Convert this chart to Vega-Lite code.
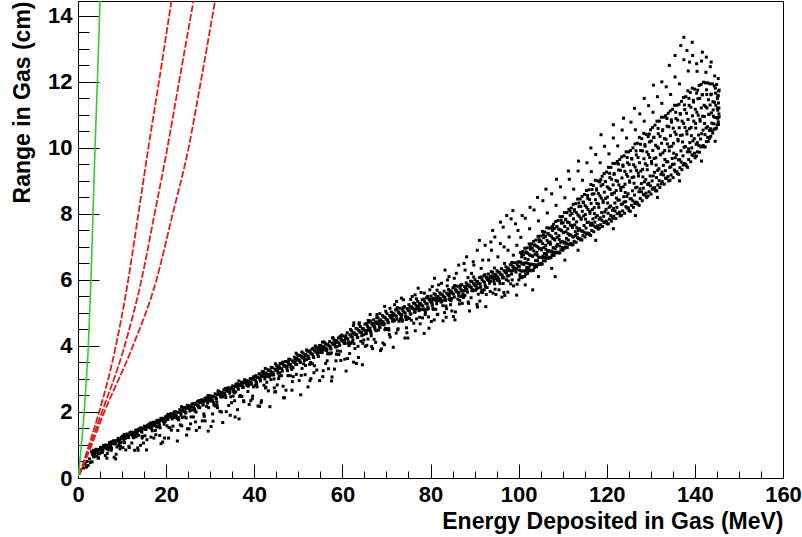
{
"$schema": "https://vega.github.io/schema/vega-lite/v6.json",
"width": 705, "height": 477,
"autosize": "none",
"padding": {"left": 78, "top": 1, "right": 19, "bottom": 59},
"background": "white",
"config": {
 "view": {"stroke": "black", "strokeWidth": 1},
 "axis": {"labelFont": "Liberation Sans", "labelFontWeight": "bold", "labelFontSize": 22, "labelColor": "black", "titleFont": "Liberation Sans", "titleFontWeight": "bold", "titleFontSize": 23, "titleColor": "black", "domainColor": "black", "tickColor": "black", "grid": false, "labelOverlap": false, "labelFlush": false, "labelBound": false}
},
"datasets": {
"band": [
{"e":1.2,"r":0.3},{"e":1.6,"r":0.42},{"e":2.0,"r":0.5},{"e":2.3,"r":0.38},{"e":2.6,"r":0.58},{"e":2.8,"r":0.47},{"e":1.9,"r":0.33},
{"e":3.1,"r":0.8},{"e":3.4,"r":0.7},{"e":3.7,"r":0.79},{"e":3.25,"r":0.73},{"e":3.55,"r":0.65},{"e":3.85,"r":0.8},
{"e":4.1,"r":0.87},{"e":4.4,"r":0.77},{"e":4.7,"r":0.86},{"e":4.25,"r":0.8},{"e":4.55,"r":0.6},{"e":4.85,"r":0.75},
{"e":5.1,"r":0.93},{"e":5.4,"r":0.83},{"e":5.7,"r":0.92},{"e":5.25,"r":0.86},{"e":5.55,"r":0.81},{"e":5.85,"r":0.95},
{"e":6.1,"r":1.0},{"e":6.4,"r":0.9},{"e":6.7,"r":0.99},{"e":6.25,"r":0.93},{"e":6.55,"r":0.6},{"e":6.85,"r":0.85},
{"e":7.1,"r":1.07},{"e":7.4,"r":0.97},{"e":7.7,"r":1.06},{"e":7.25,"r":1.0},{"e":7.55,"r":0.84},{"e":7.85,"r":1.1},
{"e":8.1,"r":1.13},{"e":8.4,"r":1.03},{"e":8.7,"r":1.12},{"e":8.25,"r":1.06},{"e":8.55,"r":0.58},{"e":8.85,"r":0.94},
{"e":9.1,"r":1.2},{"e":9.4,"r":1.1},{"e":9.7,"r":1.19},{"e":9.25,"r":1.13},{"e":9.55,"r":0.88},{"e":9.85,"r":1.23},
{"e":10.1,"r":1.27},{"e":10.4,"r":1.17},{"e":10.7,"r":1.26},{"e":10.25,"r":1.2},{"e":10.55,"r":1.07},{"e":10.85,"r":0.85},
{"e":11.1,"r":1.33},{"e":11.4,"r":1.23},{"e":11.7,"r":1.32},{"e":11.25,"r":1.26},{"e":11.55,"r":0.96},{"e":11.85,"r":1.36},
{"e":12.1,"r":1.39},{"e":12.4,"r":1.29},{"e":12.7,"r":1.38},{"e":12.25,"r":1.32},{"e":12.55,"r":1.24},{"e":12.85,"r":0.84},
{"e":13.1,"r":1.45},{"e":13.4,"r":1.35},{"e":13.7,"r":1.44},{"e":13.25,"r":1.38},{"e":13.55,"r":0.91},{"e":13.85,"r":1.48},
{"e":14.1,"r":1.51},{"e":14.4,"r":1.41},{"e":14.7,"r":1.5},{"e":14.25,"r":1.44},{"e":14.55,"r":1.21},{"e":14.85,"r":1.06},
{"e":15.1,"r":1.57},{"e":15.4,"r":1.47},{"e":15.7,"r":1.56},{"e":15.25,"r":1.5},{"e":15.55,"r":0.85},{"e":15.85,"r":1.6},
{"e":16.1,"r":1.63},{"e":16.4,"r":1.53},{"e":16.7,"r":1.62},{"e":16.25,"r":1.56},{"e":16.55,"r":1.24},{"e":16.85,"r":1.43},
{"e":17.1,"r":1.69},{"e":17.4,"r":1.59},{"e":17.7,"r":1.68},{"e":17.25,"r":1.62},{"e":17.55,"r":1.44},{"e":17.85,"r":1.73},
{"e":18.1,"r":1.75},{"e":18.4,"r":1.65},{"e":18.7,"r":1.74},{"e":18.25,"r":1.68},{"e":18.55,"r":1.29},{"e":18.85,"r":1.04},
{"e":19.1,"r":1.81},{"e":19.4,"r":1.71},{"e":19.7,"r":1.8},{"e":19.25,"r":1.74},{"e":19.55,"r":1.63},{"e":19.85,"r":1.85},
{"e":20.1,"r":1.87},{"e":20.4,"r":1.77},{"e":20.7,"r":1.86},{"e":20.25,"r":1.8},{"e":20.55,"r":1.21},{"e":20.85,"r":1.52},
{"e":21.1,"r":1.95},{"e":21.4,"r":1.79},{"e":21.7,"r":1.93},{"e":21.25,"r":1.85},{"e":21.55,"r":1.57},{"e":21.85,"r":2.0},
{"e":22.1,"r":2.01},{"e":22.4,"r":1.85},{"e":22.7,"r":1.99},{"e":22.25,"r":1.91},{"e":22.55,"r":1.12},{"e":22.85,"r":1.76},
{"e":23.1,"r":2.07},{"e":23.4,"r":1.91},{"e":23.7,"r":2.05},{"e":23.25,"r":1.97},{"e":23.55,"r":1.58},{"e":23.85,"r":2.12},
{"e":24.1,"r":2.13},{"e":24.4,"r":1.97},{"e":24.7,"r":2.11},{"e":24.25,"r":2.03},{"e":24.55,"r":1.82},{"e":24.85,"r":1.49},
{"e":25.1,"r":2.19},{"e":25.4,"r":2.03},{"e":25.7,"r":2.17},{"e":25.25,"r":2.09},{"e":25.55,"r":1.64},{"e":25.85,"r":2.24},
{"e":26.1,"r":2.25},{"e":26.4,"r":2.09},{"e":26.7,"r":2.23},{"e":26.25,"r":2.15},{"e":26.55,"r":2.03},{"e":26.85,"r":1.44},
{"e":27.1,"r":2.31},{"e":27.4,"r":2.15},{"e":27.7,"r":2.29},{"e":27.25,"r":2.21},{"e":27.55,"r":1.53},{"e":27.85,"r":2.35},
{"e":28.1,"r":2.37},{"e":28.4,"r":2.21},{"e":28.7,"r":2.35},{"e":28.25,"r":2.27},{"e":28.55,"r":1.94},{"e":28.85,"r":1.73},
{"e":29.1,"r":2.43},{"e":29.4,"r":2.27},{"e":29.7,"r":2.41},{"e":29.25,"r":2.33},{"e":29.55,"r":1.42},{"e":29.85,"r":2.47},
{"e":30.1,"r":2.49},{"e":30.4,"r":2.33},{"e":30.7,"r":2.47},{"e":30.25,"r":2.39},{"e":30.55,"r":1.94},{"e":30.85,"r":2.21},
{"e":31.1,"r":2.55},{"e":31.4,"r":2.39},{"e":31.7,"r":2.53},{"e":31.25,"r":2.45},{"e":31.55,"r":2.21},{"e":31.85,"r":2.6},
{"e":32.1,"r":2.61},{"e":32.4,"r":2.45},{"e":32.7,"r":2.59},{"e":32.25,"r":2.51},{"e":32.55,"r":2.0},{"e":32.85,"r":1.68},
{"e":33.1,"r":2.67},{"e":33.4,"r":2.51},{"e":33.7,"r":2.65},{"e":33.25,"r":2.57},{"e":33.55,"r":2.44},{"e":33.85,"r":2.72},
{"e":34.1,"r":2.73},{"e":34.4,"r":2.57},{"e":34.7,"r":2.71},{"e":34.25,"r":2.63},{"e":34.55,"r":1.9},{"e":34.85,"r":2.28},
{"e":35.1,"r":2.79},{"e":35.4,"r":2.63},{"e":35.7,"r":2.77},{"e":35.25,"r":2.69},{"e":35.55,"r":2.34},{"e":35.85,"r":2.84},
{"e":36.1,"r":2.85},{"e":36.4,"r":2.69},{"e":36.7,"r":2.83},{"e":36.25,"r":2.75},{"e":36.55,"r":1.79},{"e":36.85,"r":2.5},
{"e":37.1,"r":2.9},{"e":37.4,"r":2.74},{"e":37.7,"r":2.88},{"e":37.25,"r":2.8},{"e":37.55,"r":2.34},{"e":37.85,"r":2.96},
{"e":38.1,"r":2.96},{"e":38.4,"r":2.8},{"e":38.7,"r":2.94},{"e":38.25,"r":2.86},{"e":38.55,"r":2.62},{"e":38.85,"r":2.23},
{"e":39.1,"r":3.01},{"e":39.4,"r":2.85},{"e":39.7,"r":2.99},{"e":39.25,"r":2.91},{"e":39.55,"r":2.4},{"e":39.85,"r":3.06},
{"e":40.1,"r":3.07},{"e":40.4,"r":2.91},{"e":40.7,"r":3.05},{"e":40.25,"r":2.97},{"e":40.55,"r":2.84},{"e":40.85,"r":2.18},
{"e":41.1,"r":3.16},{"e":41.4,"r":2.94},{"e":41.7,"r":3.12},{"e":41.25,"r":3.01},{"e":41.55,"r":2.28},{"e":41.85,"r":3.22},{"e":41.95,"r":3.08},
{"e":42.1,"r":3.22},{"e":42.4,"r":3.0},{"e":42.7,"r":3.18},{"e":42.25,"r":3.07},{"e":42.55,"r":2.73},{"e":42.85,"r":2.9},{"e":42.95,"r":3.14},
{"e":43.1,"r":3.28},{"e":43.4,"r":3.06},{"e":43.7,"r":3.24},{"e":43.25,"r":3.13},{"e":43.55,"r":2.16},{"e":43.85,"r":3.35},{"e":43.95,"r":3.2},
{"e":44.1,"r":3.34},{"e":44.4,"r":3.12},{"e":44.7,"r":3.3},{"e":44.25,"r":3.19},{"e":44.55,"r":2.73},{"e":44.85,"r":2.61},{"e":44.95,"r":3.26},
{"e":45.1,"r":3.4},{"e":45.4,"r":3.18},{"e":45.7,"r":3.36},{"e":45.25,"r":3.25},{"e":45.55,"r":3.01},{"e":45.85,"r":3.47},{"e":45.95,"r":3.32},
{"e":46.1,"r":3.46},{"e":46.4,"r":3.24},{"e":46.7,"r":3.42},{"e":46.25,"r":3.31},{"e":46.55,"r":2.78},{"e":46.85,"r":2.43},{"e":46.95,"r":3.38},
{"e":47.1,"r":3.53},{"e":47.4,"r":3.31},{"e":47.7,"r":3.49},{"e":47.25,"r":3.38},{"e":47.55,"r":3.25},{"e":47.85,"r":3.6},{"e":47.95,"r":3.45},
{"e":48.1,"r":3.59},{"e":48.4,"r":3.37},{"e":48.7,"r":3.55},{"e":48.25,"r":3.44},{"e":48.55,"r":2.66},{"e":48.85,"r":3.07},{"e":48.95,"r":3.51},
{"e":49.1,"r":3.66},{"e":49.4,"r":3.44},{"e":49.7,"r":3.62},{"e":49.25,"r":3.51},{"e":49.55,"r":3.14},{"e":49.85,"r":3.72},{"e":49.95,"r":3.58},
{"e":50.1,"r":3.72},{"e":50.4,"r":3.5},{"e":50.7,"r":3.68},{"e":50.25,"r":3.57},{"e":50.55,"r":2.52},{"e":50.85,"r":3.32},{"e":50.95,"r":3.64},
{"e":51.1,"r":3.78},{"e":51.4,"r":3.56},{"e":51.7,"r":3.74},{"e":51.25,"r":3.63},{"e":51.55,"r":3.13},{"e":51.85,"r":3.88},{"e":51.95,"r":3.7},
{"e":52.1,"r":3.84},{"e":52.4,"r":3.62},{"e":52.7,"r":3.8},{"e":52.25,"r":3.69},{"e":52.55,"r":3.44},{"e":52.85,"r":3.01},{"e":52.95,"r":3.76},
{"e":53.1,"r":3.9},{"e":53.4,"r":3.68},{"e":53.7,"r":3.86},{"e":53.25,"r":3.75},{"e":53.55,"r":3.19},{"e":53.85,"r":4.0},{"e":53.95,"r":3.82},
{"e":54.1,"r":3.96},{"e":54.4,"r":3.74},{"e":54.7,"r":3.92},{"e":54.25,"r":3.81},{"e":54.55,"r":3.68},{"e":54.85,"r":2.95},{"e":54.95,"r":3.88},
{"e":55.1,"r":4.02},{"e":55.4,"r":3.8},{"e":55.7,"r":3.98},{"e":55.25,"r":3.87},{"e":55.55,"r":3.07},{"e":55.85,"r":4.12},{"e":55.95,"r":3.94},
{"e":56.1,"r":4.08},{"e":56.4,"r":3.86},{"e":56.7,"r":4.04},{"e":56.25,"r":3.93},{"e":56.55,"r":3.55},{"e":56.85,"r":3.31},{"e":56.95,"r":4.0},
{"e":57.1,"r":4.13},{"e":57.4,"r":3.91},{"e":57.7,"r":4.09},{"e":57.25,"r":3.98},{"e":57.55,"r":2.94},{"e":57.85,"r":4.24},{"e":57.95,"r":4.05},
{"e":58.1,"r":4.19},{"e":58.4,"r":3.97},{"e":58.7,"r":4.15},{"e":58.25,"r":4.04},{"e":58.55,"r":3.55},{"e":58.85,"r":3.85},{"e":58.95,"r":4.11},
{"e":59.1,"r":4.24},{"e":59.4,"r":4.02},{"e":59.7,"r":4.2},{"e":59.25,"r":4.09},{"e":59.55,"r":3.84},{"e":59.85,"r":4.33},{"e":59.95,"r":4.16},
{"e":60.1,"r":4.3},{"e":60.4,"r":4.08},{"e":60.7,"r":4.26},{"e":60.25,"r":4.15},{"e":60.55,"r":3.6},{"e":60.85,"r":3.24},{"e":60.95,"r":4.22},
{"e":61.1,"r":4.4},{"e":61.4,"r":4.12},{"e":61.7,"r":4.34},{"e":61.25,"r":4.21},{"e":61.55,"r":4.09},{"e":61.85,"r":4.5},{"e":61.95,"r":4.29},
{"e":62.1,"r":4.46},{"e":62.4,"r":4.18},{"e":62.7,"r":4.4},{"e":62.25,"r":4.27},{"e":62.55,"r":3.51},{"e":62.85,"r":3.92},{"e":62.95,"r":4.35},
{"e":63.1,"r":4.53},{"e":63.4,"r":4.25},{"e":63.7,"r":4.47},{"e":63.25,"r":4.34},{"e":63.55,"r":3.99},{"e":63.85,"r":4.7},{"e":63.95,"r":4.42},
{"e":64.1,"r":4.59},{"e":64.4,"r":4.31},{"e":64.7,"r":4.53},{"e":64.25,"r":4.4},{"e":64.55,"r":3.43},{"e":64.85,"r":4.18},{"e":64.95,"r":4.48},
{"e":65.1,"r":4.66},{"e":65.4,"r":4.38},{"e":65.7,"r":4.6},{"e":65.25,"r":4.47},{"e":65.55,"r":4.02},{"e":65.85,"r":4.77},{"e":65.95,"r":4.55},
{"e":66.1,"r":4.72},{"e":66.4,"r":4.44},{"e":66.7,"r":4.66},{"e":66.25,"r":4.53},{"e":66.55,"r":4.31},{"e":66.85,"r":3.92},{"e":66.95,"r":4.61},
{"e":67.1,"r":4.79},{"e":67.4,"r":4.51},{"e":67.7,"r":4.73},{"e":67.25,"r":4.6},{"e":67.55,"r":4.11},{"e":67.85,"r":4.95},{"e":67.95,"r":4.68},
{"e":68.1,"r":4.85},{"e":68.4,"r":4.57},{"e":68.7,"r":4.79},{"e":68.25,"r":4.66},{"e":68.55,"r":4.56},{"e":68.85,"r":3.91},{"e":68.95,"r":4.74},
{"e":69.1,"r":4.92},{"e":69.4,"r":4.64},{"e":69.7,"r":4.86},{"e":69.25,"r":4.73},{"e":69.55,"r":4.04},{"e":69.85,"r":5.05},{"e":69.95,"r":4.81},
{"e":70.1,"r":4.98},{"e":70.4,"r":4.7},{"e":70.7,"r":4.92},{"e":70.25,"r":4.79},{"e":70.55,"r":4.48},{"e":70.85,"r":4.27},{"e":70.95,"r":4.87},
{"e":71.1,"r":5.03},{"e":71.4,"r":4.75},{"e":71.7,"r":4.97},{"e":71.25,"r":4.84},{"e":71.55,"r":3.96},{"e":71.85,"r":5.25},{"e":71.95,"r":4.92},
{"e":72.1,"r":5.09},{"e":72.4,"r":4.81},{"e":72.7,"r":5.03},{"e":72.25,"r":4.9},{"e":72.55,"r":4.49},{"e":72.85,"r":4.75},{"e":72.95,"r":4.98},
{"e":73.1,"r":5.14},{"e":73.4,"r":4.86},{"e":73.7,"r":5.08},{"e":73.25,"r":4.95},{"e":73.55,"r":4.75},{"e":73.85,"r":5.4},{"e":73.95,"r":5.03},
{"e":74.1,"r":5.19},{"e":74.4,"r":4.91},{"e":74.7,"r":5.13},{"e":74.25,"r":5.0},{"e":74.55,"r":4.55},{"e":74.85,"r":4.24},{"e":74.95,"r":5.08},
{"e":75.1,"r":5.25},{"e":75.4,"r":4.97},{"e":75.7,"r":5.19},{"e":75.25,"r":5.06},{"e":75.55,"r":4.97},{"e":75.85,"r":5.5},{"e":75.95,"r":5.14},
{"e":76.1,"r":5.3},{"e":76.4,"r":5.02},{"e":76.7,"r":5.24},{"e":76.25,"r":5.11},{"e":76.55,"r":4.46},{"e":76.85,"r":4.82},{"e":76.95,"r":5.19},
{"e":77.1,"r":5.35},{"e":77.4,"r":5.07},{"e":77.7,"r":5.29},{"e":77.25,"r":5.16},{"e":77.55,"r":4.87},{"e":77.85,"r":5.62},{"e":77.95,"r":5.24},
{"e":78.1,"r":5.4},{"e":78.4,"r":5.12},{"e":78.7,"r":5.34},{"e":78.25,"r":5.21},{"e":78.55,"r":4.38},{"e":78.85,"r":5.02},{"e":78.95,"r":5.29},
{"e":79.1,"r":5.46},{"e":79.4,"r":5.18},{"e":79.7,"r":5.4},{"e":79.25,"r":5.27},{"e":79.55,"r":4.88},{"e":79.85,"r":5.7},{"e":79.95,"r":5.35},
{"e":80.1,"r":5.51},{"e":80.4,"r":5.23},{"e":80.7,"r":5.45},{"e":80.25,"r":5.32},{"e":80.55,"r":5.14},{"e":80.85,"r":4.79},{"e":80.95,"r":5.4},
{"e":81.1,"r":5.56},{"e":81.4,"r":5.28},{"e":81.7,"r":5.5},{"e":81.25,"r":5.37},{"e":81.55,"r":4.95},{"e":81.85,"r":5.85},{"e":81.95,"r":5.45},
{"e":82.1,"r":5.61},{"e":82.4,"r":5.33},{"e":82.7,"r":5.55},{"e":82.25,"r":5.42},{"e":82.55,"r":5.34},{"e":82.85,"r":4.76},{"e":82.95,"r":5.5},
{"e":83.1,"r":5.66},{"e":83.4,"r":5.38},{"e":83.7,"r":5.6},{"e":83.25,"r":5.47},{"e":83.55,"r":4.87},{"e":83.85,"r":6.0},{"e":83.95,"r":5.55},
{"e":84.1,"r":5.71},{"e":84.4,"r":5.43},{"e":84.7,"r":5.65},{"e":84.25,"r":5.52},{"e":84.55,"r":5.25},{"e":84.85,"r":5.06},{"e":84.95,"r":5.6},
{"e":85.1,"r":5.76},{"e":85.4,"r":5.48},{"e":85.7,"r":5.7},{"e":85.25,"r":5.57},{"e":85.55,"r":4.79},{"e":85.85,"r":6.2},{"e":85.95,"r":5.65},
{"e":86.1,"r":5.81},{"e":86.4,"r":5.53},{"e":86.7,"r":5.75},{"e":86.25,"r":5.62},{"e":86.55,"r":5.27},{"e":86.85,"r":5.5},{"e":86.95,"r":5.7},
{"e":87.1,"r":5.86},{"e":87.4,"r":5.58},{"e":87.7,"r":5.8},{"e":87.25,"r":5.67},{"e":87.55,"r":5.5},{"e":87.85,"r":6.3},{"e":87.95,"r":5.75},
{"e":88.1,"r":5.91},{"e":88.4,"r":5.63},{"e":88.7,"r":5.85},{"e":88.25,"r":5.72},{"e":88.55,"r":5.33},{"e":88.85,"r":5.06},{"e":88.95,"r":5.8},
{"e":89.1,"r":5.96},{"e":89.4,"r":5.68},{"e":89.7,"r":5.9},{"e":89.25,"r":5.77},{"e":89.55,"r":5.7},{"e":89.85,"r":6.45},{"e":89.95,"r":5.85},
{"e":90.1,"r":6.01},{"e":90.4,"r":5.73},{"e":90.7,"r":5.95},{"e":90.25,"r":5.82},{"e":90.55,"r":5.26},{"e":90.85,"r":5.57},{"e":90.95,"r":5.9},
{"e":91.1,"r":6.07},{"e":91.4,"r":5.79},{"e":91.7,"r":6.01},{"e":91.25,"r":5.88},{"e":91.55,"r":5.63},{"e":91.85,"r":6.6},{"e":91.95,"r":5.96},
{"e":92.1,"r":6.12},{"e":92.4,"r":5.84},{"e":92.7,"r":6.06},{"e":92.25,"r":5.93},{"e":92.55,"r":5.19},{"e":92.85,"r":5.77},{"e":92.95,"r":6.01},
{"e":93.1,"r":6.18},{"e":93.4,"r":5.9},{"e":93.7,"r":6.12},{"e":93.25,"r":5.99},{"e":93.55,"r":5.65},{"e":93.85,"r":6.9},{"e":93.95,"r":6.07},
{"e":94.1,"r":6.23},{"e":94.4,"r":5.95},{"e":94.7,"r":6.17},{"e":94.25,"r":6.04},{"e":94.55,"r":5.88},{"e":94.85,"r":5.56},{"e":94.95,"r":6.12},
{"e":95.1,"r":6.28},{"e":95.4,"r":6.0},{"e":95.7,"r":6.22},{"e":95.25,"r":6.09},{"e":95.55,"r":5.7},{"e":95.85,"r":7.1},{"e":95.95,"r":6.17},
{"e":96.1,"r":6.34},{"e":96.4,"r":6.06},{"e":96.7,"r":6.28},{"e":96.25,"r":6.15},{"e":96.55,"r":6.07},{"e":96.85,"r":5.53},{"e":96.95,"r":6.23},{"e":96.5,"r":7.6},
{"e":97.1,"r":6.4},{"e":97.4,"r":6.12},{"e":97.7,"r":6.34},{"e":97.25,"r":6.21},{"e":97.55,"r":5.63},{"e":97.85,"r":7.3},{"e":97.95,"r":6.29},{"e":97.6,"r":6.9},
{"e":98.1,"r":6.46},{"e":98.4,"r":6.18},{"e":98.7,"r":6.4},{"e":98.25,"r":6.27},{"e":98.55,"r":6.0},{"e":98.85,"r":5.82},{"e":98.95,"r":6.35},{"e":98.3,"r":7.85},{"e":98.8,"r":6.75},
{"e":99.1,"r":6.52},{"e":99.4,"r":6.24},{"e":99.7,"r":6.46},{"e":99.25,"r":6.33},{"e":99.55,"r":5.54},{"e":99.85,"r":7.5},{"e":99.95,"r":6.41},{"e":99.6,"r":7.05},
{"e":85.4,"r":6.05},{"e":87.6,"r":6.5},{"e":89.3,"r":6.2},{"e":91.5,"r":6.35},{"e":93.2,"r":6.6},{"e":94.6,"r":7.3},{"e":95.3,"r":6.7},
{"e":72.3,"r":5.35},{"e":76.5,"r":5.55},{"e":78.6,"r":5.6},{"e":80.4,"r":5.8},{"e":82.5,"r":5.9},{"e":84.2,"r":6.1},
{"e":100.05,"r":6.0},{"e":100.6,"r":6.07},{"e":100.3,"r":6.16},{"e":100.85,"r":6.27},{"e":100.15,"r":6.41},{"e":100.45,"r":6.54},{"e":100.7,"r":6.7},{"e":100.95,"r":6.86},{"e":100.5,"r":7.29},
{"e":101.05,"r":6.1},{"e":101.6,"r":6.17},{"e":101.3,"r":6.27},{"e":101.85,"r":6.38},{"e":101.15,"r":6.51},{"e":101.45,"r":6.65},{"e":101.7,"r":6.82},{"e":101.95,"r":6.97},{"e":101.5,"r":7.87},
{"e":102.05,"r":6.2},{"e":102.6,"r":6.28},{"e":102.3,"r":6.37},{"e":102.85,"r":6.48},{"e":102.15,"r":6.62},{"e":102.45,"r":6.76},{"e":102.7,"r":6.93},{"e":102.95,"r":7.09},{"e":102.5,"r":7.55},
{"e":103.05,"r":6.3},{"e":103.6,"r":6.38},{"e":103.3,"r":6.47},{"e":103.85,"r":6.59},{"e":103.15,"r":6.73},{"e":103.45,"r":6.88},{"e":103.7,"r":7.05},{"e":103.95,"r":7.21},{"e":103.5,"r":8.12},
{"e":104.05,"r":6.4},{"e":104.6,"r":6.48},{"e":104.3,"r":6.58},{"e":104.85,"r":6.69},{"e":104.15,"r":6.84},{"e":104.45,"r":6.99},{"e":104.7,"r":7.16},{"e":104.95,"r":7.33},{"e":104.5,"r":7.79},
{"e":105.05,"r":6.5},{"e":105.6,"r":6.58},{"e":105.3,"r":6.68},{"e":105.85,"r":6.8},{"e":105.15,"r":6.95},{"e":105.45,"r":7.1},{"e":105.7,"r":7.28},{"e":105.95,"r":7.45},{"e":105.5,"r":8.4},
{"e":106.05,"r":6.58},{"e":106.6,"r":6.66},{"e":106.3,"r":6.77},{"e":106.85,"r":6.89},{"e":106.15,"r":7.05},{"e":106.45,"r":7.2},{"e":106.7,"r":7.39},{"e":106.95,"r":7.57},{"e":106.5,"r":8.03},
{"e":107.05,"r":6.66},{"e":107.6,"r":6.75},{"e":107.3,"r":6.85},{"e":107.85,"r":6.98},{"e":107.15,"r":7.15},{"e":107.45,"r":7.31},{"e":107.7,"r":7.5},{"e":107.95,"r":7.69},{"e":107.5,"r":8.61},
{"e":108.05,"r":6.74},{"e":108.6,"r":6.83},{"e":108.3,"r":6.94},{"e":108.85,"r":7.08},{"e":108.15,"r":7.24},{"e":108.45,"r":7.41},{"e":108.7,"r":7.61},{"e":108.95,"r":7.8},{"e":108.5,"r":8.26},
{"e":109.05,"r":6.82},{"e":109.6,"r":6.91},{"e":109.3,"r":7.03},{"e":109.85,"r":7.17},{"e":109.15,"r":7.34},{"e":109.45,"r":7.52},{"e":109.7,"r":7.72},{"e":109.95,"r":7.92},{"e":109.5,"r":8.82},
{"e":110.05,"r":6.9},{"e":110.6,"r":7.0},{"e":110.3,"r":7.12},{"e":110.85,"r":7.26},{"e":110.15,"r":7.44},{"e":110.45,"r":7.62},{"e":110.7,"r":7.84},{"e":110.95,"r":8.04},{"e":110.5,"r":8.49},
{"e":111.05,"r":6.98},{"e":111.6,"r":7.08},{"e":111.3,"r":7.21},{"e":111.85,"r":7.36},{"e":111.15,"r":7.55},{"e":111.45,"r":7.74},{"e":111.7,"r":7.96},{"e":111.95,"r":8.18},{"e":111.5,"r":9.05},
{"e":112.05,"r":7.06},{"e":112.6,"r":7.17},{"e":112.3,"r":7.3},{"e":112.85,"r":7.46},{"e":112.15,"r":7.65},{"e":112.45,"r":7.85},{"e":112.7,"r":8.09},{"e":112.95,"r":8.31},{"e":112.5,"r":8.75},
{"e":113.05,"r":7.14},{"e":113.6,"r":7.25},{"e":113.3,"r":7.39},{"e":113.85,"r":7.55},{"e":113.15,"r":7.76},{"e":113.45,"r":7.97},{"e":113.7,"r":8.22},{"e":113.95,"r":8.45},{"e":113.5,"r":9.3},
{"e":114.05,"r":7.22},{"e":114.6,"r":7.34},{"e":114.3,"r":7.48},{"e":114.85,"r":7.65},{"e":114.15,"r":7.87},{"e":114.45,"r":8.08},{"e":114.7,"r":8.34},{"e":114.95,"r":8.59},{"e":114.5,"r":9.02},
{"e":115.05,"r":7.3},{"e":115.6,"r":7.42},{"e":115.3,"r":7.57},{"e":115.85,"r":7.75},{"e":115.15,"r":7.98},{"e":115.45,"r":8.2},{"e":115.7,"r":8.47},{"e":115.95,"r":8.73},{"e":115.5,"r":9.55},
{"e":116.05,"r":7.38},{"e":116.6,"r":7.5},{"e":116.3,"r":7.66},{"e":116.85,"r":7.85},{"e":116.15,"r":8.08},{"e":116.45,"r":8.32},{"e":116.7,"r":8.6},{"e":116.95,"r":8.86},{"e":116.5,"r":9.28},
{"e":117.05,"r":7.46},{"e":117.6,"r":7.59},{"e":117.3,"r":7.75},{"e":117.85,"r":7.95},{"e":117.15,"r":8.19},{"e":117.45,"r":8.43},{"e":117.7,"r":8.72},{"e":117.95,"r":9.0},{"e":117.5,"r":9.8},
{"e":118.05,"r":7.54},{"e":118.6,"r":7.67},{"e":118.3,"r":7.84},{"e":118.85,"r":8.04},{"e":118.15,"r":8.3},{"e":118.45,"r":8.55},{"e":118.7,"r":8.85},{"e":118.95,"r":9.14},{"e":118.5,"r":9.55},
{"e":119.05,"r":7.62},{"e":119.6,"r":7.76},{"e":119.3,"r":7.93},{"e":119.85,"r":8.14},{"e":119.15,"r":8.4},{"e":119.45,"r":8.66},{"e":119.7,"r":8.98},{"e":119.95,"r":9.27},{"e":119.5,"r":10.05},
{"e":120.05,"r":7.7},{"e":120.6,"r":7.84},{"e":120.3,"r":8.02},{"e":120.85,"r":8.24},{"e":120.15,"r":8.51},{"e":120.45,"r":8.78},{"e":120.7,"r":9.1},{"e":120.95,"r":9.41},{"e":120.5,"r":9.82},
{"e":121.05,"r":7.78},{"e":121.6,"r":7.93},{"e":121.3,"r":8.11},{"e":121.85,"r":8.33},{"e":121.15,"r":8.61},{"e":121.45,"r":8.88},{"e":121.7,"r":9.22},{"e":121.95,"r":9.53},{"e":121.5,"r":10.3},
{"e":122.05,"r":7.86},{"e":122.6,"r":8.01},{"e":122.3,"r":8.2},{"e":122.85,"r":8.42},{"e":122.15,"r":8.71},{"e":122.45,"r":8.99},{"e":122.7,"r":9.33},{"e":122.95,"r":9.65},{"e":122.5,"r":10.06},
{"e":123.05,"r":7.94},{"e":123.6,"r":8.09},{"e":123.3,"r":8.29},{"e":123.85,"r":8.52},{"e":123.15,"r":8.8},{"e":123.45,"r":9.09},{"e":123.7,"r":9.44},{"e":123.95,"r":9.76},{"e":123.5,"r":10.54},
{"e":124.05,"r":8.02},{"e":124.6,"r":8.18},{"e":124.3,"r":8.37},{"e":124.85,"r":8.61},{"e":124.15,"r":8.9},{"e":124.45,"r":9.2},{"e":124.7,"r":9.55},{"e":124.95,"r":9.88},{"e":124.5,"r":10.3},
{"e":125.05,"r":8.1},{"e":125.6,"r":8.26},{"e":125.3,"r":8.46},{"e":125.85,"r":8.7},{"e":125.15,"r":9.0},{"e":125.45,"r":9.3},{"e":125.7,"r":9.66},{"e":125.95,"r":10.0},{"e":125.5,"r":10.78},
{"e":126.05,"r":8.2},{"e":126.6,"r":8.36},{"e":126.3,"r":8.57},{"e":126.85,"r":8.81},{"e":126.15,"r":9.12},{"e":126.45,"r":9.42},{"e":126.7,"r":9.79},{"e":126.95,"r":10.14},{"e":126.5,"r":10.55},
{"e":127.05,"r":8.3},{"e":127.6,"r":8.47},{"e":127.3,"r":8.67},{"e":127.85,"r":8.92},{"e":127.15,"r":9.24},{"e":127.45,"r":9.55},{"e":127.7,"r":9.92},{"e":127.95,"r":10.28},{"e":127.5,"r":11.03},
{"e":128.05,"r":8.4},{"e":128.6,"r":8.57},{"e":128.3,"r":8.78},{"e":128.85,"r":9.04},{"e":128.15,"r":9.35},{"e":128.45,"r":9.67},{"e":128.7,"r":10.05},{"e":128.95,"r":10.41},{"e":128.5,"r":10.81},
{"e":129.05,"r":8.5},{"e":129.6,"r":8.67},{"e":129.3,"r":8.89},{"e":129.85,"r":9.15},{"e":129.15,"r":9.47},{"e":129.45,"r":9.8},{"e":129.7,"r":10.18},{"e":129.95,"r":10.55},{"e":129.5,"r":11.28},
{"e":130.05,"r":8.6},{"e":130.6,"r":8.78},{"e":130.3,"r":9.0},{"e":130.85,"r":9.26},{"e":130.15,"r":9.59},{"e":130.45,"r":9.92},{"e":130.7,"r":10.32},{"e":130.95,"r":10.69},{"e":130.5,"r":11.08},
{"e":131.05,"r":8.7},{"e":131.6,"r":8.88},{"e":131.3,"r":9.1},{"e":131.85,"r":9.37},{"e":131.15,"r":9.7},{"e":131.45,"r":10.03},{"e":131.7,"r":10.43},{"e":131.95,"r":10.81},{"e":131.5,"r":11.55},
{"e":132.05,"r":8.8},{"e":132.6,"r":8.98},{"e":132.3,"r":9.2},{"e":132.85,"r":9.47},{"e":132.15,"r":9.81},{"e":132.45,"r":10.14},{"e":132.7,"r":10.55},{"e":132.95,"r":10.93},{"e":132.5,"r":11.35},
{"e":133.05,"r":8.9},{"e":133.6,"r":9.08},{"e":133.3,"r":9.31},{"e":133.85,"r":9.58},{"e":133.15,"r":9.92},{"e":133.45,"r":10.26},{"e":133.7,"r":10.66},{"e":133.95,"r":11.05},{"e":133.5,"r":11.85},
{"e":134.05,"r":9.0},{"e":134.6,"r":9.18},{"e":134.3,"r":9.41},{"e":134.85,"r":9.68},{"e":134.15,"r":10.03},{"e":134.45,"r":10.37},{"e":134.7,"r":10.78},{"e":134.95,"r":11.17},{"e":134.5,"r":11.62},
{"e":135.05,"r":9.1},{"e":135.6,"r":9.28},{"e":135.3,"r":9.51},{"e":135.85,"r":9.79},{"e":135.15,"r":10.14},{"e":135.45,"r":10.48},{"e":135.7,"r":10.89},{"e":135.95,"r":11.29},{"e":135.5,"r":12.15},
{"e":136.05,"r":9.22},{"e":136.6,"r":9.4},{"e":136.3,"r":9.64},{"e":136.85,"r":9.91},{"e":136.15,"r":10.26},{"e":136.45,"r":10.61},{"e":136.7,"r":11.02},{"e":136.95,"r":11.41},{"e":136.5,"r":11.94},
{"e":137.05,"r":9.34},{"e":137.6,"r":9.53},{"e":137.3,"r":9.76},{"e":137.85,"r":10.04},{"e":137.15,"r":10.39},{"e":137.45,"r":10.74},{"e":137.7,"r":11.16},{"e":137.95,"r":11.55},{"e":137.5,"r":12.67},
{"e":138.05,"r":9.46},{"e":138.6,"r":9.65},{"e":138.3,"r":9.88},{"e":138.85,"r":10.16},{"e":138.15,"r":10.51},{"e":138.45,"r":10.86},{"e":138.7,"r":11.29},{"e":138.95,"r":11.68},{"e":138.5,"r":12.33},
{"e":139.05,"r":9.58},{"e":139.6,"r":9.77},{"e":139.3,"r":10.0},{"e":139.85,"r":10.28},{"e":139.15,"r":10.62},{"e":139.45,"r":10.97},{"e":139.7,"r":11.39},{"e":139.95,"r":11.78},{"e":139.5,"r":12.8},
{"e":140.05,"r":9.7},{"e":140.6,"r":9.88},{"e":140.3,"r":10.11},{"e":140.85,"r":10.39},{"e":140.15,"r":10.74},{"e":140.45,"r":11.08},{"e":140.7,"r":11.49},{"e":140.95,"r":11.89},{"e":140.5,"r":12.32},
{"e":141.05,"r":9.87},{"e":141.6,"r":10.05},{"e":141.3,"r":10.27},{"e":141.85,"r":10.54},{"e":141.15,"r":10.87},{"e":141.45,"r":11.21},{"e":141.7,"r":11.61},{"e":141.95,"r":11.99},{"e":141.5,"r":12.63},
{"e":142.05,"r":10.03},{"e":142.6,"r":10.19},{"e":142.3,"r":10.4},{"e":142.85,"r":10.64},{"e":142.15,"r":10.95},{"e":142.45,"r":11.25},{"e":142.7,"r":11.62},{"e":142.95,"r":11.97},{"e":142.5,"r":12.29},
{"e":143.05,"r":10.2},{"e":143.6,"r":10.35},{"e":143.3,"r":10.53},{"e":143.85,"r":10.75},{"e":143.15,"r":11.02},{"e":143.45,"r":11.3},{"e":143.7,"r":11.63},{"e":143.95,"r":11.94},{"e":143.5,"r":12.46},
{"e":144.05,"r":10.45},{"e":144.6,"r":10.57},{"e":144.3,"r":10.73},{"e":144.85,"r":10.92},{"e":144.15,"r":11.15},{"e":144.45,"r":11.38},{"e":144.7,"r":11.66},{"e":144.95,"r":11.92},{"e":144.5,"r":12.18},
{"e":145.05,"r":10.7},{"e":145.3,"r":10.79},{"e":145.15,"r":10.9},{"e":145.45,"r":11.03},{"e":145.1,"r":11.2},{"e":145.35,"r":11.36},{"e":145.2,"r":11.56},{"e":145.5,"r":11.75},{"e":145.3,"r":12.1},
{"e":135.5,"r":12.8},{"e":136.8,"r":13.1},{"e":137.5,"r":13.35},{"e":138.2,"r":12.95},{"e":139.4,"r":13.2},{"e":138.8,"r":12.6},{"e":134.2,"r":12.5},{"e":132.5,"r":12.0},{"e":130.6,"r":11.9},{"e":128.5,"r":11.5},{"e":126.3,"r":11.2},{"e":123.8,"r":10.9},{"e":121.5,"r":10.7},{"e":118.7,"r":10.4},{"e":116.4,"r":10.0},{"e":113.6,"r":9.6},{"e":111.3,"r":9.3},{"e":108.6,"r":9.05},{"e":106.2,"r":8.75},{"e":104.3,"r":8.5},{"e":102.6,"r":8.2},{"e":100.8,"r":7.95},{"e":142.6,"r":12.75},{"e":143.7,"r":12.6},{"e":140.4,"r":12.55},{"e":141.7,"r":12.9},
{"e":101.5,"r":5.85},{"e":104.5,"r":6.1},{"e":107.5,"r":6.35},{"e":110.5,"r":6.6},{"e":113.5,"r":6.9},{"e":117.5,"r":7.2},{"e":121.5,"r":7.55},{"e":126.5,"r":7.95},{"e":131.5,"r":8.5},{"e":136.5,"r":9.0},{"e":141.5,"r":9.6},{"e":144.6,"r":10.2},{"e":103.2,"r":5.7},{"e":108.3,"r":6.1},
{"e":3.5,"r":0.84},{"e":3.8,"r":0.73},{"e":3.2,"r":0.49},{"e":3.65,"r":0.64},{"e":3.35,"r":0.76},
{"e":4.5,"r":0.78},{"e":4.8,"r":0.73},{"e":4.2,"r":0.67},{"e":4.65,"r":0.61},{"e":4.35,"r":0.85},
{"e":5.5,"r":0.77},{"e":5.8,"r":0.98},{"e":5.2,"r":0.86},{"e":5.65,"r":0.83},{"e":5.35,"r":0.84},
{"e":6.5,"r":0.98},{"e":6.8,"r":0.9},{"e":6.2,"r":0.68},{"e":6.65,"r":0.74},{"e":6.35,"r":0.96},
{"e":7.5,"r":1.09},{"e":7.8,"r":1.04},{"e":7.2,"r":0.93},{"e":7.65,"r":0.91},{"e":7.35,"r":1.07},
{"e":8.5,"r":1.06},{"e":8.8,"r":1.13},{"e":8.2,"r":0.63},{"e":8.65,"r":0.72},{"e":8.35,"r":1.06},
{"e":9.5,"r":1.06},{"e":9.8,"r":1.08},{"e":9.2,"r":0.98},{"e":9.65,"r":0.96},{"e":9.35,"r":1.08},
{"e":10.5,"r":1.32},{"e":10.8,"r":1.23},{"e":10.2,"r":0.92},{"e":10.65,"r":1.19},{"e":10.35,"r":1.24},
{"e":11.5,"r":1.23},{"e":11.8,"r":1.37},{"e":11.2,"r":1.22},{"e":11.65,"r":0.92},{"e":11.35,"r":1.32},
{"e":12.5,"r":1.36},{"e":12.8,"r":1.3},{"e":12.2,"r":1.06},{"e":12.65,"r":1.22},{"e":12.35,"r":1.33},
{"e":13.5,"r":1.45},{"e":13.8,"r":1.29},{"e":13.2,"r":1.25},{"e":13.65,"r":0.84},{"e":13.35,"r":1.35},
{"e":14.5,"r":1.39},{"e":14.8,"r":1.49},{"e":14.2,"r":0.99},{"e":14.65,"r":1.26},{"e":14.35,"r":1.52},
{"e":15.5,"r":1.53},{"e":15.8,"r":1.59},{"e":15.2,"r":1.28},{"e":15.65,"r":1.16},{"e":15.35,"r":1.49},
{"e":16.5,"r":1.67},{"e":16.8,"r":1.56},{"e":16.2,"r":1.54},{"e":16.65,"r":1.5},{"e":16.35,"r":1.59},
{"e":17.5,"r":1.6},{"e":17.8,"r":1.55},{"e":17.2,"r":1.21},{"e":17.65,"r":1.31},{"e":17.35,"r":1.67},
{"e":18.5,"r":1.59},{"e":18.8,"r":1.8},{"e":18.2,"r":1.55},{"e":18.65,"r":1.52},{"e":18.35,"r":1.66},
{"e":19.5,"r":1.79},{"e":19.8,"r":1.71},{"e":19.2,"r":1.09},{"e":19.65,"r":1.21},{"e":19.35,"r":1.77},
{"e":20.5,"r":1.93},{"e":20.8,"r":1.85},{"e":20.2,"r":1.58},{"e":20.65,"r":1.53},{"e":20.35,"r":1.91},
{"e":21.5,"r":1.85},{"e":21.8,"r":1.96},{"e":21.2,"r":1.45},{"e":21.65,"r":1.84},{"e":21.35,"r":1.84},
{"e":22.5,"r":1.8},{"e":22.8,"r":1.83},{"e":22.2,"r":1.85},{"e":22.65,"r":1.44},{"e":22.35,"r":1.83},
{"e":23.5,"r":2.16},{"e":23.8,"r":2.02},{"e":23.2,"r":1.61},{"e":23.65,"r":1.83},{"e":23.35,"r":2.03},
{"e":24.5,"r":1.98},{"e":24.8,"r":2.2},{"e":24.2,"r":1.85},{"e":24.65,"r":1.3},{"e":24.35,"r":2.13},
{"e":25.5,"r":2.15},{"e":25.8,"r":2.06},{"e":25.2,"r":1.49},{"e":25.65,"r":1.85},{"e":25.35,"r":2.1},
{"e":26.5,"r":2.26},{"e":26.8,"r":2.0},{"e":26.2,"r":1.85},{"e":26.65,"r":1.7},{"e":26.35,"r":2.09},
{"e":27.5,"r":2.13},{"e":27.8,"r":2.29},{"e":27.2,"r":2.19},{"e":27.65,"r":2.14},{"e":27.35,"r":2.34},
{"e":28.5,"r":2.32},{"e":28.8,"r":2.41},{"e":28.2,"r":1.73},{"e":28.65,"r":1.87},{"e":28.35,"r":2.25},
{"e":29.5,"r":2.5},{"e":29.8,"r":2.33},{"e":29.2,"r":2.17},{"e":29.65,"r":2.13},{"e":29.35,"r":2.38},
{"e":30.5,"r":2.36},{"e":30.8,"r":2.28},{"e":30.2,"r":1.56},{"e":30.65,"r":1.72},{"e":30.35,"r":2.47},
{"e":31.5,"r":2.3},{"e":31.8,"r":2.64},{"e":31.2,"r":2.18},{"e":31.65,"r":2.13},{"e":31.35,"r":2.41},
{"e":32.5,"r":2.59},{"e":32.8,"r":2.46},{"e":32.2,"r":2.02},{"e":32.65,"r":2.49},{"e":32.35,"r":2.55},
{"e":33.5,"r":2.71},{"e":33.8,"r":2.63},{"e":33.2,"r":2.49},{"e":33.65,"r":2.01},{"e":33.35,"r":2.69},
{"e":34.5,"r":2.63},{"e":34.8,"r":2.74},{"e":34.2,"r":2.2},{"e":34.65,"r":2.46},{"e":34.35,"r":2.62},
{"e":35.5,"r":2.58},{"e":35.8,"r":2.61},{"e":35.2,"r":2.48},{"e":35.65,"r":1.85},{"e":35.35,"r":2.61},
{"e":36.5,"r":2.94},{"e":36.8,"r":2.8},{"e":36.2,"r":2.07},{"e":36.65,"r":2.47},{"e":36.35,"r":2.81},
{"e":37.5,"r":2.75},{"e":37.8,"r":2.97},{"e":37.2,"r":2.47},{"e":37.65,"r":2.31},{"e":37.35,"r":2.9},
{"e":38.5,"r":2.92},{"e":38.8,"r":2.83},{"e":38.2,"r":2.84},{"e":38.65,"r":2.78},{"e":38.35,"r":2.87},
{"e":39.5,"r":3.02},{"e":39.8,"r":2.76},{"e":39.2,"r":2.34},{"e":39.65,"r":2.48},{"e":39.35,"r":2.85},
{"e":40.5,"r":2.89},{"e":40.8,"r":3.05},{"e":40.2,"r":2.8},{"e":40.65,"r":2.76},{"e":40.35,"r":3.1},
{"e":41.5,"r":3.08},{"e":41.8,"r":3.21},{"e":41.2,"r":2.17},{"e":41.65,"r":2.34},{"e":41.35,"r":2.99},
{"e":42.5,"r":3.32},{"e":42.8,"r":3.08},{"e":42.2,"r":2.81},{"e":42.65,"r":2.75},{"e":42.35,"r":3.15},
{"e":43.5,"r":3.09},{"e":43.8,"r":2.98},{"e":43.2,"r":2.64},{"e":43.65,"r":3.12},{"e":43.35,"r":3.25},
{"e":44.5,"r":3.0},{"e":44.8,"r":3.46},{"e":44.2,"r":3.13},{"e":44.65,"r":2.61},{"e":44.35,"r":3.15},
{"e":45.5,"r":3.37},{"e":45.8,"r":3.19},{"e":45.2,"r":2.82},{"e":45.65,"r":3.09},{"e":45.35,"r":3.31},
{"e":46.5,"r":3.51},{"e":46.8,"r":3.4},{"e":46.2,"r":3.1},{"e":46.65,"r":2.43},{"e":46.35,"r":3.48},
{"e":47.5,"r":3.39},{"e":47.8,"r":3.54},{"e":47.2,"r":2.66},{"e":47.65,"r":3.1},{"e":47.35,"r":3.38},
{"e":48.5,"r":3.29},{"e":48.8,"r":3.34},{"e":48.2,"r":3.1},{"e":48.65,"r":2.92},{"e":48.35,"r":3.34},
{"e":49.5,"r":3.78},{"e":49.8,"r":3.58},{"e":49.2,"r":3.5},{"e":49.65,"r":3.44},{"e":49.35,"r":3.6},
{"e":50.5,"r":3.51},{"e":50.8,"r":3.82},{"e":50.2,"r":2.95},{"e":50.65,"r":3.11},{"e":50.35,"r":3.71},
{"e":51.5,"r":3.72},{"e":51.8,"r":3.59},{"e":51.2,"r":3.46},{"e":51.65,"r":3.41},{"e":51.35,"r":3.65},
{"e":52.5,"r":3.85},{"e":52.8,"r":3.5},{"e":52.2,"r":2.76},{"e":52.65,"r":2.95},{"e":52.35,"r":3.62},
{"e":53.5,"r":3.65},{"e":53.8,"r":3.87},{"e":53.2,"r":3.46},{"e":53.65,"r":3.4},{"e":53.35,"r":3.93},
{"e":54.5,"r":3.88},{"e":54.8,"r":4.01},{"e":54.2,"r":3.27},{"e":54.65,"r":3.8},{"e":54.35,"r":3.79},
{"e":55.5,"r":4.12},{"e":55.8,"r":3.88},{"e":55.2,"r":3.8},{"e":55.65,"r":3.25},{"e":55.35,"r":3.95},
{"e":56.5,"r":3.89},{"e":56.8,"r":3.78},{"e":56.2,"r":3.47},{"e":56.65,"r":3.76},{"e":56.35,"r":4.05},
{"e":57.5,"r":3.79},{"e":57.8,"r":4.25},{"e":57.2,"r":3.76},{"e":57.65,"r":3.06},{"e":57.35,"r":3.94},
{"e":58.5,"r":4.16},{"e":58.8,"r":3.98},{"e":58.2,"r":3.3},{"e":58.65,"r":3.75},{"e":58.35,"r":4.1},
{"e":59.5,"r":4.29},{"e":59.8,"r":4.18},{"e":59.2,"r":3.74},{"e":59.65,"r":3.56},{"e":59.35,"r":4.26},
{"e":60.5,"r":4.16},{"e":60.8,"r":4.31},{"e":60.2,"r":4.14},{"e":60.65,"r":4.08},{"e":60.35,"r":4.15},
{"e":61.5,"r":4.01},{"e":61.8,"r":4.07},{"e":61.2,"r":3.62},{"e":61.65,"r":3.77},{"e":61.35,"r":4.08},
{"e":62.5,"r":4.62},{"e":62.8,"r":4.36},{"e":62.2,"r":4.12},{"e":62.65,"r":4.07},{"e":62.35,"r":4.38},
{"e":63.5,"r":4.26},{"e":63.8,"r":4.66},{"e":63.2,"r":3.47},{"e":63.65,"r":3.65},{"e":63.35,"r":4.52},
{"e":64.5,"r":4.52},{"e":64.8,"r":4.34},{"e":64.2,"r":4.14},{"e":64.65,"r":4.08},{"e":64.35,"r":4.42},
{"e":65.5,"r":4.68},{"e":65.8,"r":4.21},{"e":65.2,"r":3.99},{"e":65.65,"r":4.47},{"e":65.35,"r":4.37},
{"e":66.5,"r":4.39},{"e":66.8,"r":4.68},{"e":66.2,"r":4.48},{"e":66.65,"r":3.98},{"e":66.35,"r":4.76},
{"e":67.5,"r":4.69},{"e":67.8,"r":4.86},{"e":67.2,"r":4.2},{"e":67.65,"r":4.46},{"e":67.35,"r":4.57},
{"e":68.5,"r":4.98},{"e":68.8,"r":4.66},{"e":68.2,"r":4.48},{"e":68.65,"r":3.86},{"e":68.35,"r":4.75},
{"e":69.5,"r":4.67},{"e":69.8,"r":4.53},{"e":69.2,"r":4.09},{"e":69.65,"r":4.49},{"e":69.35,"r":4.88},
{"e":70.5,"r":4.53},{"e":70.8,"r":5.14},{"e":70.2,"r":4.5},{"e":70.65,"r":4.35},{"e":70.35,"r":4.73},
{"e":71.5,"r":4.99},{"e":71.8,"r":4.76},{"e":71.2,"r":4.85},{"e":71.65,"r":4.8},{"e":71.35,"r":4.92},
{"e":72.5,"r":5.16},{"e":72.8,"r":5.02},{"e":72.2,"r":4.39},{"e":72.65,"r":4.52},{"e":72.35,"r":5.12},
{"e":73.5,"r":4.95},{"e":73.8,"r":5.16},{"e":73.2,"r":4.82},{"e":73.65,"r":4.78},{"e":73.35,"r":4.94},
{"e":74.5,"r":4.8},{"e":74.8,"r":4.86},{"e":74.2,"r":4.24},{"e":74.65,"r":4.4},{"e":74.35,"r":4.87},
{"e":75.5,"r":5.41},{"e":75.8,"r":5.15},{"e":75.2,"r":4.83},{"e":75.65,"r":4.78},{"e":75.35,"r":5.17},
{"e":76.5,"r":5.03},{"e":76.8,"r":5.43},{"e":76.2,"r":4.69},{"e":76.65,"r":5.12},{"e":76.35,"r":5.29},
{"e":77.5,"r":5.28},{"e":77.8,"r":5.1},{"e":77.2,"r":5.12},{"e":77.65,"r":4.67},{"e":77.35,"r":5.19},
{"e":78.5,"r":5.42},{"e":78.8,"r":4.95},{"e":78.2,"r":4.85},{"e":78.65,"r":5.09},{"e":78.35,"r":5.11},
{"e":79.5,"r":5.13},{"e":79.8,"r":5.42},{"e":79.2,"r":5.11},{"e":79.65,"r":4.54},{"e":79.35,"r":5.5},
{"e":80.5,"r":5.41},{"e":80.8,"r":5.58},{"e":80.2,"r":4.74},{"e":80.65,"r":5.11},{"e":80.35,"r":5.29},
{"e":81.5,"r":5.69},{"e":81.8,"r":5.37},{"e":81.2,"r":5.11},{"e":81.65,"r":4.96},{"e":81.35,"r":5.46},
{"e":82.5,"r":5.36},{"e":82.8,"r":5.22},{"e":82.2,"r":5.43},{"e":82.65,"r":5.38},{"e":82.35,"r":5.57},
{"e":83.5,"r":5.21},{"e":83.8,"r":5.82},{"e":83.2,"r":5.01},{"e":83.65,"r":5.13},{"e":83.35,"r":5.41},
{"e":84.5,"r":5.67},{"e":84.8,"r":5.44},{"e":84.2,"r":5.41},{"e":84.65,"r":5.37},{"e":84.35,"r":5.6},
{"e":85.5,"r":5.83},{"e":85.8,"r":5.69},{"e":85.2,"r":4.89},{"e":85.65,"r":5.03},{"e":85.35,"r":5.79},
{"e":86.5,"r":5.62},{"e":86.8,"r":5.83},{"e":86.2,"r":5.42},{"e":86.65,"r":5.38},{"e":86.35,"r":5.61},
{"e":87.5,"r":5.47},{"e":87.8,"r":5.53},{"e":87.2,"r":5.29},{"e":87.65,"r":5.68},{"e":87.35,"r":5.54},
{"e":88.5,"r":6.07},{"e":88.8,"r":5.81},{"e":88.2,"r":5.69},{"e":88.65,"r":5.29},{"e":88.35,"r":5.83},
{"e":89.5,"r":5.69},{"e":89.8,"r":6.09},{"e":89.2,"r":5.46},{"e":89.65,"r":5.67},{"e":89.35,"r":5.95},
{"e":90.5,"r":5.94},{"e":90.8,"r":5.76},{"e":90.2,"r":5.69},{"e":90.65,"r":5.18},{"e":90.35,"r":5.85},
{"e":91.5,"r":6.09},{"e":91.8,"r":5.62},{"e":91.2,"r":5.36},{"e":91.65,"r":5.69},{"e":91.35,"r":5.78},
{"e":92.5,"r":5.79},{"e":92.8,"r":6.08},{"e":92.2,"r":5.7},{"e":92.65,"r":5.56},{"e":92.35,"r":6.16},
{"e":93.5,"r":6.08},{"e":93.8,"r":6.25},{"e":93.2,"r":6.0},{"e":93.65,"r":5.96},{"e":93.35,"r":5.96},
{"e":94.5,"r":6.36},{"e":94.8,"r":6.04},{"e":94.2,"r":5.6},{"e":94.65,"r":5.72},{"e":94.35,"r":6.13},
{"e":95.5,"r":6.03},{"e":95.8,"r":5.89},{"e":95.2,"r":5.99},{"e":95.65,"r":5.95},{"e":95.35,"r":6.24},
{"e":96.5,"r":5.89},{"e":96.8,"r":6.5},{"e":96.2,"r":5.48},{"e":96.65,"r":5.62},{"e":96.35,"r":6.09},
{"e":97.5,"r":6.36},{"e":97.8,"r":6.13},{"e":97.2,"r":6.01},{"e":97.65,"r":5.97},{"e":97.35,"r":6.29},
{"e":98.5,"r":6.53},{"e":98.8,"r":6.39},{"e":98.2,"r":5.88},{"e":98.65,"r":6.28},{"e":98.35,"r":6.49},
{"e":99.5,"r":6.33},{"e":99.8,"r":6.54},{"e":99.2,"r":6.3},{"e":99.65,"r":5.87},{"e":99.35,"r":6.35},
{"e":62.6,"r":4.7},{"e":66.3,"r":4.95},{"e":69.6,"r":5.2},{"e":73.4,"r":5.45},{"e":77.2,"r":5.75},{"e":80.9,"r":6.05},{"e":83.3,"r":6.3},{"e":86.4,"r":6.45},{"e":88.2,"r":6.7},{"e":90.6,"r":6.9},{"e":92.4,"r":7.05},{"e":94.1,"r":7.5},{"e":95.9,"r":7.75},{"e":97.3,"r":7.95},{"e":98.7,"r":8.1},{"e":99.3,"r":7.7},{"e":91.1,"r":7.2},{"e":89.7,"r":6.55},{"e":96.7,"r":7.0},{"e":93.7,"r":7.15},
{"e":100.35,"r":6.07},{"e":100.9,"r":6.09},{"e":100.55,"r":6.27},{"e":100.2,"r":6.3},{"e":100.75,"r":6.49},{"e":100.1,"r":6.55},{"e":100.65,"r":6.79},{"e":100.4,"r":6.83},
{"e":101.35,"r":6.11},{"e":101.9,"r":6.3},{"e":101.55,"r":6.27},{"e":101.2,"r":6.47},{"e":101.75,"r":6.52},{"e":101.1,"r":6.76},{"e":101.65,"r":6.85},{"e":101.4,"r":6.96},
{"e":102.35,"r":6.29},{"e":102.9,"r":6.28},{"e":102.55,"r":6.44},{"e":102.2,"r":6.5},{"e":102.75,"r":6.74},{"e":102.1,"r":6.81},{"e":102.65,"r":7.01},{"e":102.4,"r":7.09},
{"e":103.35,"r":6.29},{"e":103.9,"r":6.44},{"e":103.55,"r":6.47},{"e":103.2,"r":6.71},{"e":103.75,"r":6.78},{"e":103.1,"r":6.97},{"e":103.65,"r":7.06},{"e":103.4,"r":7.17},
{"e":104.35,"r":6.46},{"e":104.9,"r":6.47},{"e":104.55,"r":6.68},{"e":104.2,"r":6.75},{"e":104.75,"r":6.94},{"e":104.1,"r":7.02},{"e":104.65,"r":7.22},{"e":104.4,"r":7.32},
{"e":105.35,"r":6.48},{"e":105.9,"r":6.68},{"e":105.55,"r":6.72},{"e":105.2,"r":6.91},{"e":105.75,"r":6.98},{"e":105.1,"r":7.18},{"e":105.65,"r":7.37},{"e":105.4,"r":7.47},
{"e":106.35,"r":6.67},{"e":106.9,"r":6.69},{"e":106.55,"r":6.86},{"e":106.2,"r":6.93},{"e":106.75,"r":7.13},{"e":106.1,"r":7.32},{"e":106.65,"r":7.41},{"e":106.4,"r":7.58},
{"e":107.35,"r":6.68},{"e":107.9,"r":6.83},{"e":107.55,"r":6.88},{"e":107.2,"r":7.08},{"e":107.75,"r":7.26},{"e":107.1,"r":7.35},{"e":107.65,"r":7.62},{"e":107.4,"r":7.58},
{"e":108.35,"r":6.82},{"e":108.9,"r":6.84},{"e":108.55,"r":7.02},{"e":108.2,"r":7.21},{"e":108.75,"r":7.29},{"e":108.1,"r":7.56},{"e":108.65,"r":7.61},{"e":108.4,"r":7.77},
{"e":109.35,"r":6.82},{"e":109.9,"r":6.98},{"e":109.55,"r":7.14},{"e":109.2,"r":7.23},{"e":109.75,"r":7.49},{"e":109.1,"r":7.54},{"e":109.65,"r":7.81},{"e":109.4,"r":7.92},
{"e":110.35,"r":6.96},{"e":110.9,"r":7.1},{"e":110.55,"r":7.15},{"e":110.2,"r":7.43},{"e":110.75,"r":7.46},{"e":110.1,"r":7.73},{"e":110.65,"r":7.82},{"e":110.4,"r":8.04},
{"e":111.35,"r":7.08},{"e":111.9,"r":7.11},{"e":111.55,"r":7.36},{"e":111.2,"r":7.4},{"e":111.75,"r":7.66},{"e":111.1,"r":7.75},{"e":111.65,"r":8.09},{"e":111.4,"r":8.14},
{"e":112.35,"r":7.07},{"e":112.9,"r":7.35},{"e":112.55,"r":7.31},{"e":112.2,"r":7.59},{"e":112.75,"r":7.67},{"e":112.1,"r":8.01},{"e":112.65,"r":8.13},{"e":112.4,"r":8.29},
{"e":113.35,"r":7.28},{"e":113.9,"r":7.25},{"e":113.55,"r":7.5},{"e":113.2,"r":7.58},{"e":113.75,"r":7.93},{"e":113.1,"r":8.04},{"e":113.65,"r":8.33},{"e":113.4,"r":8.45},
{"e":114.35,"r":7.21},{"e":114.9,"r":7.44},{"e":114.55,"r":7.48},{"e":114.2,"r":7.84},{"e":114.75,"r":7.94},{"e":114.1,"r":8.23},{"e":114.65,"r":8.36},{"e":114.4,"r":8.53},
{"e":115.35,"r":7.39},{"e":115.9,"r":7.41},{"e":115.55,"r":7.74},{"e":115.2,"r":7.84},{"e":115.75,"r":8.13},{"e":115.1,"r":8.25},{"e":115.65,"r":8.56},{"e":115.4,"r":8.71},
{"e":116.35,"r":7.35},{"e":116.9,"r":7.66},{"e":116.55,"r":7.72},{"e":116.2,"r":8.02},{"e":116.75,"r":8.13},{"e":116.1,"r":8.44},{"e":116.65,"r":8.74},{"e":116.4,"r":8.89},
{"e":117.35,"r":7.61},{"e":117.9,"r":7.64},{"e":117.55,"r":7.9},{"e":117.2,"r":8.01},{"e":117.75,"r":8.32},{"e":117.1,"r":8.61},{"e":117.65,"r":8.76},{"e":117.4,"r":9.02},
{"e":118.35,"r":7.57},{"e":118.9,"r":7.81},{"e":118.55,"r":7.88},{"e":118.2,"r":8.2},{"e":118.75,"r":8.48},{"e":118.1,"r":8.62},{"e":118.65,"r":9.04},{"e":118.4,"r":8.97},
{"e":119.35,"r":7.74},{"e":119.9,"r":7.78},{"e":119.55,"r":8.06},{"e":119.2,"r":8.35},{"e":119.75,"r":8.47},{"e":119.1,"r":8.89},{"e":119.65,"r":8.98},{"e":119.4,"r":9.22},
{"e":120.35,"r":7.7},{"e":120.9,"r":7.95},{"e":120.55,"r":8.2},{"e":120.2,"r":8.33},{"e":120.75,"r":8.74},{"e":120.1,"r":8.82},{"e":120.65,"r":9.23},{"e":120.4,"r":9.41},
{"e":121.35,"r":7.87},{"e":121.9,"r":8.09},{"e":121.55,"r":8.17},{"e":121.2,"r":8.59},{"e":121.75,"r":8.64},{"e":121.1,"r":9.05},{"e":121.65,"r":9.2},{"e":121.4,"r":9.53},
{"e":122.35,"r":8.01},{"e":122.9,"r":8.05},{"e":122.55,"r":8.42},{"e":122.2,"r":8.48},{"e":122.75,"r":8.88},{"e":122.1,"r":9.01},{"e":122.65,"r":9.51},{"e":122.4,"r":9.59},
{"e":123.35,"r":7.96},{"e":123.9,"r":8.36},{"e":123.55,"r":8.3},{"e":123.2,"r":8.71},{"e":123.75,"r":8.82},{"e":123.1,"r":9.32},{"e":123.65,"r":9.48},{"e":123.4,"r":9.73},
{"e":124.35,"r":8.22},{"e":124.9,"r":8.18},{"e":124.55,"r":8.53},{"e":124.2,"r":8.65},{"e":124.75,"r":9.14},{"e":124.1,"r":9.29},{"e":124.65,"r":9.71},{"e":124.4,"r":9.88},
{"e":125.35,"r":8.08},{"e":125.9,"r":8.4},{"e":125.55,"r":8.46},{"e":125.2,"r":8.96},{"e":125.75,"r":9.1},{"e":125.1,"r":9.5},{"e":125.65,"r":9.68},{"e":125.4,"r":9.92},
{"e":126.35,"r":8.32},{"e":126.9,"r":8.34},{"e":126.55,"r":8.79},{"e":126.2,"r":8.93},{"e":126.75,"r":9.32},{"e":126.1,"r":9.49},{"e":126.65,"r":9.91},{"e":126.4,"r":10.12},
{"e":127.35,"r":8.26},{"e":127.9,"r":8.67},{"e":127.55,"r":8.76},{"e":127.2,"r":9.15},{"e":127.75,"r":9.3},{"e":127.1,"r":9.71},{"e":127.65,"r":10.11},{"e":127.4,"r":10.32},
{"e":128.35,"r":8.59},{"e":128.9,"r":8.63},{"e":128.55,"r":8.97},{"e":128.2,"r":9.12},{"e":128.75,"r":9.52},{"e":128.1,"r":9.91},{"e":128.65,"r":10.1},{"e":128.4,"r":10.44},
{"e":129.35,"r":8.54},{"e":129.9,"r":8.85},{"e":129.55,"r":8.93},{"e":129.2,"r":9.34},{"e":129.75,"r":9.71},{"e":129.1,"r":9.88},{"e":129.65,"r":10.42},{"e":129.4,"r":10.34},
{"e":130.35,"r":8.75},{"e":130.9,"r":8.8},{"e":130.55,"r":9.15},{"e":130.2,"r":9.52},{"e":130.75,"r":9.68},{"e":130.1,"r":10.21},{"e":130.65,"r":10.32},{"e":130.4,"r":10.62},
{"e":131.35,"r":8.7},{"e":131.9,"r":9.01},{"e":131.55,"r":9.32},{"e":131.2,"r":9.48},{"e":131.75,"r":9.99},{"e":131.1,"r":10.08},{"e":131.65,"r":10.59},{"e":131.4,"r":10.81},
{"e":132.35,"r":8.91},{"e":132.9,"r":9.18},{"e":132.55,"r":9.27},{"e":132.2,"r":9.79},{"e":132.75,"r":9.85},{"e":132.1,"r":10.35},{"e":132.65,"r":10.52},{"e":132.4,"r":10.93},
{"e":133.35,"r":9.08},{"e":133.9,"r":9.13},{"e":133.55,"r":9.58},{"e":133.2,"r":9.65},{"e":133.75,"r":10.12},{"e":133.1,"r":10.28},{"e":133.65,"r":10.89},{"e":133.4,"r":10.98},
{"e":134.35,"r":9.02},{"e":134.9,"r":9.5},{"e":134.55,"r":9.43},{"e":134.2,"r":9.91},{"e":134.75,"r":10.05},{"e":134.1,"r":10.64},{"e":134.65,"r":10.85},{"e":134.4,"r":11.12},
{"e":135.35,"r":9.33},{"e":135.9,"r":9.28},{"e":135.55,"r":9.7},{"e":135.2,"r":9.84},{"e":135.75,"r":10.41},{"e":135.1,"r":10.6},{"e":135.65,"r":11.08},{"e":135.4,"r":11.29},
{"e":136.35,"r":9.2},{"e":136.9,"r":9.57},{"e":136.55,"r":9.64},{"e":136.2,"r":10.21},{"e":136.75,"r":10.38},{"e":136.1,"r":10.84},{"e":136.65,"r":11.04},{"e":136.4,"r":11.32},
{"e":137.35,"r":9.48},{"e":137.9,"r":9.5},{"e":137.55,"r":10.02},{"e":137.2,"r":10.18},{"e":137.75,"r":10.62},{"e":137.1,"r":10.81},{"e":137.65,"r":11.3},{"e":137.4,"r":11.53},
{"e":138.35,"r":9.41},{"e":138.9,"r":9.88},{"e":138.55,"r":9.97},{"e":138.2,"r":10.42},{"e":138.75,"r":10.58},{"e":138.1,"r":11.05},{"e":138.65,"r":11.5},{"e":138.4,"r":11.73},
{"e":139.35,"r":9.79},{"e":139.9,"r":9.84},{"e":139.55,"r":10.21},{"e":139.2,"r":10.37},{"e":139.75,"r":10.81},{"e":139.1,"r":11.23},{"e":139.65,"r":11.44},{"e":139.4,"r":11.81},
{"e":140.35,"r":9.75},{"e":140.9,"r":10.07},{"e":140.55,"r":10.16},{"e":140.2,"r":10.6},{"e":140.75,"r":10.99},{"e":140.1,"r":11.17},{"e":140.65,"r":11.75},{"e":140.4,"r":11.66},
{"e":141.35,"r":10.03},{"e":141.9,"r":10.07},{"e":141.55,"r":10.43},{"e":141.2,"r":10.81},{"e":141.75,"r":10.96},{"e":141.1,"r":11.5},{"e":141.65,"r":11.61},{"e":141.4,"r":11.92},
{"e":142.35,"r":10.03},{"e":142.9,"r":10.32},{"e":142.55,"r":10.6},{"e":142.2,"r":10.74},{"e":142.75,"r":11.21},{"e":142.1,"r":11.29},{"e":142.65,"r":11.76},{"e":142.4,"r":11.97},
{"e":143.35,"r":10.29},{"e":143.9,"r":10.51},{"e":143.55,"r":10.58},{"e":143.2,"r":11.01},{"e":143.75,"r":11.06},{"e":143.1,"r":11.46},{"e":143.65,"r":11.61},{"e":143.4,"r":11.94},
{"e":144.35,"r":10.57},{"e":144.9,"r":10.6},{"e":144.55,"r":10.92},{"e":144.2,"r":10.96},{"e":144.75,"r":11.29},{"e":144.1,"r":11.4},{"e":144.65,"r":11.81},{"e":144.4,"r":11.88},
{"e":145.35,"r":10.71},{"e":145.5,"r":10.94},{"e":145.25,"r":10.91},{"e":145.2,"r":11.14},{"e":145.45,"r":11.21},{"e":145.1,"r":11.49},{"e":145.3,"r":11.59},{"e":145.4,"r":11.72}
],
"red": [
{"c":"a","e":0.3,"r":0.1},{"c":"a","e":2.5,"r":1.0},{"c":"a","e":4.6,"r":1.91},{"c":"a","e":8.4,"r":3.88},{"c":"a","e":11.4,"r":6.0},{"c":"a","e":13.7,"r":8.0},{"c":"a","e":15.9,"r":9.94},{"c":"a","e":18.6,"r":12.2},{"c":"a","e":21.2,"r":14.45},
{"c":"b","e":0.3,"r":0.1},{"c":"b","e":2.8,"r":1.0},{"c":"b","e":5.2,"r":1.91},{"c":"b","e":10.3,"r":3.88},{"c":"b","e":14.4,"r":6.0},{"c":"b","e":17.3,"r":7.95},{"c":"b","e":20.2,"r":9.94},{"c":"b","e":23.2,"r":12.2},{"c":"b","e":26.2,"r":14.45},
{"c":"c","e":0.3,"r":0.1},{"c":"c","e":3.1,"r":1.0},{"c":"c","e":5.7,"r":1.91},{"c":"c","e":12.1,"r":3.88},{"c":"c","e":17.8,"r":6.0},{"c":"c","e":21.4,"r":7.95},{"c":"c","e":25.0,"r":9.94},{"c":"c","e":28.0,"r":12.1},{"c":"c","e":31.1,"r":14.45}
],
"green": [
{"e":0.1,"r":0.05},{"e":0.7,"r":0.9},{"e":1.36,"r":1.91},{"e":1.85,"r":2.9},{"e":2.3,"r":3.88},{"e":2.95,"r":6.0},{"e":3.4,"r":8.0},{"e":3.85,"r":9.94},{"e":4.45,"r":12.2},{"e":5.0,"r":14.45}
]
},
"layer": [
{"data": {"name": "band"},
 "mark": {"type": "square", "size": 9, "color": "black", "opacity": 1, "strokeWidth": 0},
 "encoding": {
  "x": {"field": "e", "type": "quantitative", "scale": {"domain": [0, 160], "nice": false, "zero": false},
        "axis": {"orient": "bottom", "values": [0,20,40,60,80,100,120,140,160], "tickSize": -14, "labelPadding": 20, "title": "Energy Deposited in Gas (MeV)", "titleAnchor": "end", "titlePadding": 5}},
  "y": {"field": "r", "type": "quantitative", "scale": {"domain": [0, 14.45], "nice": false, "zero": false},
        "axis": {"orient": "left", "values": [0,2,4,6,8,10,12,14], "tickSize": -21, "labelPadding": 27, "title": "Range in Gas (cm)", "titleAnchor": "end", "titlePadding": 13}}
 }},
{"data": {"name": "red"},
 "mark": {"type": "line", "color": "#e01c1c", "strokeWidth": 1.8, "clip": true, "interpolate": "monotone", "strokeDash": [7, 2]},
 "encoding": {
  "x": {"field": "e", "type": "quantitative",
        "axis": {"orient": "bottom", "values": [5,10,15,25,30,35,45,50,55,65,70,75,85,90,95,105,110,115,125,130,135,145,150,155], "tickSize": -7, "labels": false, "domain": false, "title": null}},
  "y": {"field": "r", "type": "quantitative",
        "axis": {"orient": "left", "values": [0.5,1,1.5,2.5,3,3.5,4.5,5,5.5,6.5,7,7.5,8.5,9,9.5,10.5,11,11.5,12.5,13,13.5], "tickSize": -11, "labels": false, "domain": false, "title": null}},
  "detail": {"field": "c", "type": "nominal"}
 }},
{"data": {"name": "green"},
 "mark": {"type": "line", "color": "#33cc33", "strokeWidth": 1.6, "clip": true, "interpolate": "monotone"},
 "encoding": {
  "x": {"field": "e", "type": "quantitative", "axis": null},
  "y": {"field": "r", "type": "quantitative", "axis": null}
 }}
],
"resolve": {"axis": {"x": "independent", "y": "independent"}}
}
